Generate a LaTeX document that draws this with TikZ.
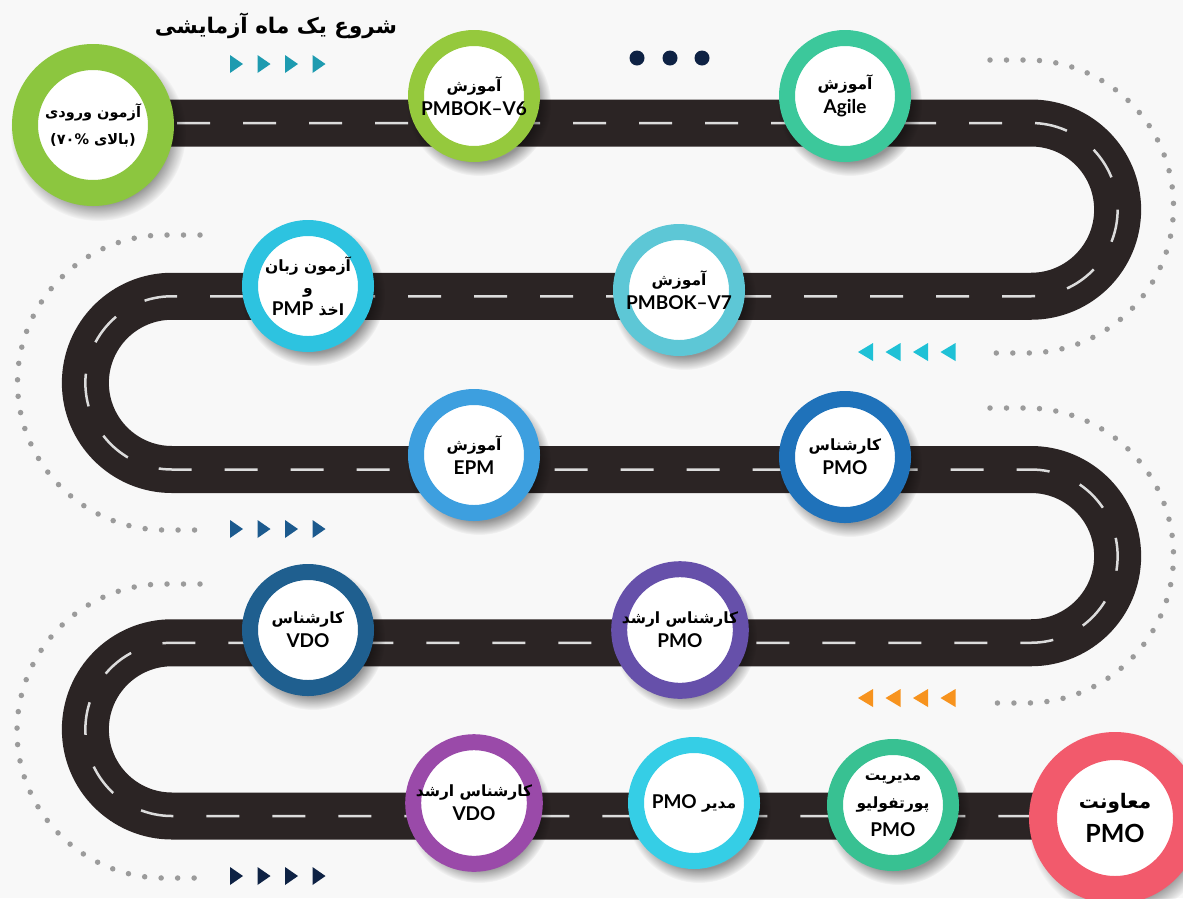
\documentclass[tikz,border=0pt]{standalone}
\usepackage{fontspec}
\setmainfont{Lato}
\newfontfamily\persf[Script=Arabic]{DejaVu Sans}
\newfontfamily\latf{Lato}
\TeXXeTstate=1
\usetikzlibrary{fadings}
\definecolor{bgc}{HTML}{F8F8F8}
\definecolor{roadc}{HTML}{2B2424}
\definecolor{lanec}{HTML}{DCDCDC}
\definecolor{dotc}{HTML}{9B9B9B}
\definecolor{cA}{HTML}{8CC63F}
\definecolor{cB}{HTML}{95C93D}
\definecolor{cC}{HTML}{3CC89B}
\definecolor{cD}{HTML}{5DC7D6}
\definecolor{cE}{HTML}{2DC3E0}
\definecolor{cF}{HTML}{3D9FDF}
\definecolor{cG}{HTML}{1F72BA}
\definecolor{cH}{HTML}{6650AA}
\definecolor{cI}{HTML}{1F5F8F}
\definecolor{cJ}{HTML}{9A4AA9}
\definecolor{cK}{HTML}{35CEE6}
\definecolor{cL}{HTML}{38C192}
\definecolor{cM}{HTML}{F25A6C}
\definecolor{tealT}{HTML}{1E9BB0}
\definecolor{cyanT}{HTML}{1FC1D6}
\definecolor{blueT}{HTML}{1C5A8E}
\definecolor{orangeT}{HTML}{F7931E}
\definecolor{navyT}{HTML}{0E2244}
\newcommand\FAtext[1]{{\persf\bfseries\beginR#1\endR}}
\newcommand\ENtext[1]{{\latf\bfseries\fontsize{19}{24}\selectfont #1}}
\newcommand\ENin[1]{\beginL\ENtext{#1}\endL{}}
\tikzset{
  road/.style={draw=roadc, line width=47pt},
  lane/.style={draw=lanec, line width=2.5pt, dash pattern=on 33pt off 33pt, dash phase=48pt},
  dotline/.style={draw=dotc, line width=5.5pt, line cap=round, dash pattern=on 0pt off 16.5pt},
  stage/.style={circle, fill=white, draw=#1, line width=16pt, minimum size=116pt, inner sep=0pt,
    align=center, text=black, font=\fontsize{15.5}{24}\selectfont},
  bigstage/.style={stage=#1, line width=26pt, minimum size=136pt},
  shadowc/.style={fill=black, opacity=0.4, path fading=circle with fuzzy edge 20 percent},
}
\begin{document}
\begin{tikzpicture}[x=1pt,y=-1pt]
\fill[bgc] (0,0) rectangle (1183,898);
\useasboundingbox (0,0) rectangle (1183,898);

% dotted guide arcs
\draw[dotline] (990,60) -- (1027,60) arc[start angle=-90,end angle=90,radius=146.5] -- (990,353);
\draw[dotline] (200,235) -- (165,235) arc[start angle=-90,end angle=-270,radius=147.5] -- (200,530);
\draw[dotline] (990,408) -- (1026,408) arc[start angle=-90,end angle=90,radius=147.5] -- (990,703);
\draw[dotline] (200,584) -- (164,584) arc[start angle=-90,end angle=-270,radius=147] -- (200,878);

% road
\draw[road, postaction={lane}] (93,123) -- (1031,123)
  arc[start angle=-90,end angle=90,radius=86.625] -- (172,296.25)
  arc[start angle=-90,end angle=-270,radius=86.625] -- (1031,469.5)
  arc[start angle=-90,end angle=90,radius=86.625] -- (172,642.75)
  arc[start angle=-90,end angle=-270,radius=86.625] -- (1117,816);

% triangles and dots
\foreach \i in {0,...,3}{
  \fill[tealT] ({230+27.5*\i},55) -- ++(13,9) -- ++(-13,9) -- cycle;
  \fill[blueT] ({230+27.5*\i},520) -- ++(13,9) -- ++(-13,9) -- cycle;
  \fill[navyT] ({230+27.5*\i},867) -- ++(13,9) -- ++(-13,9) -- cycle;
  \fill[cyanT] ({873+27.5*\i},343) -- ++(-15,9) -- ++(15,9) -- cycle;
  \fill[orangeT] ({873+27.5*\i},689) -- ++(-15,9) -- ++(15,9) -- cycle;
}
\foreach \x in {637,670,702}{\fill[navyT] (\x,58) circle (7.5);}

% shadows
\foreach \x/\y/\r in {93/125/88, 474/96/72, 845/96/72, 679/290/72, 308/286/72, 474/455/72,
  845/457/72, 680/630/72, 308/630/72, 474/803/72, 694/803/72, 893/805/72, 1115/818/92}{
  \fill[shadowc] ({\x+5},{\y+8}) circle (\r);
}

% title
\node[font=\persf\bfseries\fontsize{21.5}{26}\selectfont] (title) at (276,26) {\beginR شروع یک ماه آزمایشی\endR};

% stages
\node[bigstage=cA, font=\fontsize{14.5}{24}\selectfont] (s1) at (93,125)
  {\FAtext{آزمون ورودی}\\[3pt]\FAtext{(بالای ۷۰\%)}};
\node[stage=cB] (s2) at (474,96) {\FAtext{آموزش}\\\ENtext{PMBOK–V6}};
\node[stage=cC] (s3) at (845,96) {\FAtext{آموزش}\\\ENtext{Agile}};
\node[stage=cD] (s4) at (679,290) {\FAtext{آموزش}\\\ENtext{PMBOK–V7}};
\node[stage=cE, font=\fontsize{15.5}{22}\selectfont] (s5) at (308,286) {\FAtext{آزمون زبان}\\\FAtext{و}\\\FAtext{اخذ \ENin{PMP}}};
\node[stage=cF] (s6) at (474,455) {\FAtext{آموزش}\\\ENtext{EPM}};
\node[stage=cG] (s7) at (845,457) {\FAtext{کارشناس}\\\ENtext{PMO}};
\node[stage=cH] (s8) at (680,630) {\FAtext{کارشناس ارشد}\\\ENtext{PMO}};
\node[stage=cI] (s9) at (308,630) {\FAtext{کارشناس}\\\ENtext{VDO}};
\node[stage=cJ] (s10) at (474,803) {\FAtext{کارشناس ارشد}\\\ENtext{VDO}};
\node[stage=cK] (s11) at (694,803) {\FAtext{مدیر \ENin{PMO}}};
\node[stage=cL, font=\fontsize{15.5}{28}\selectfont] (s12) at (893,805) {\FAtext{مدیریت}\\\FAtext{پورتفولیو}\\\ENtext{PMO}};
\node[stage=cM, line width=28pt, minimum size=144pt, font=\fontsize{20}{34}\selectfont] (s13) at (1115,818)
  {\FAtext{معاونت}\\{\latf\bfseries\fontsize{25}{34}\selectfont PMO}};
\end{tikzpicture}
\end{document}
